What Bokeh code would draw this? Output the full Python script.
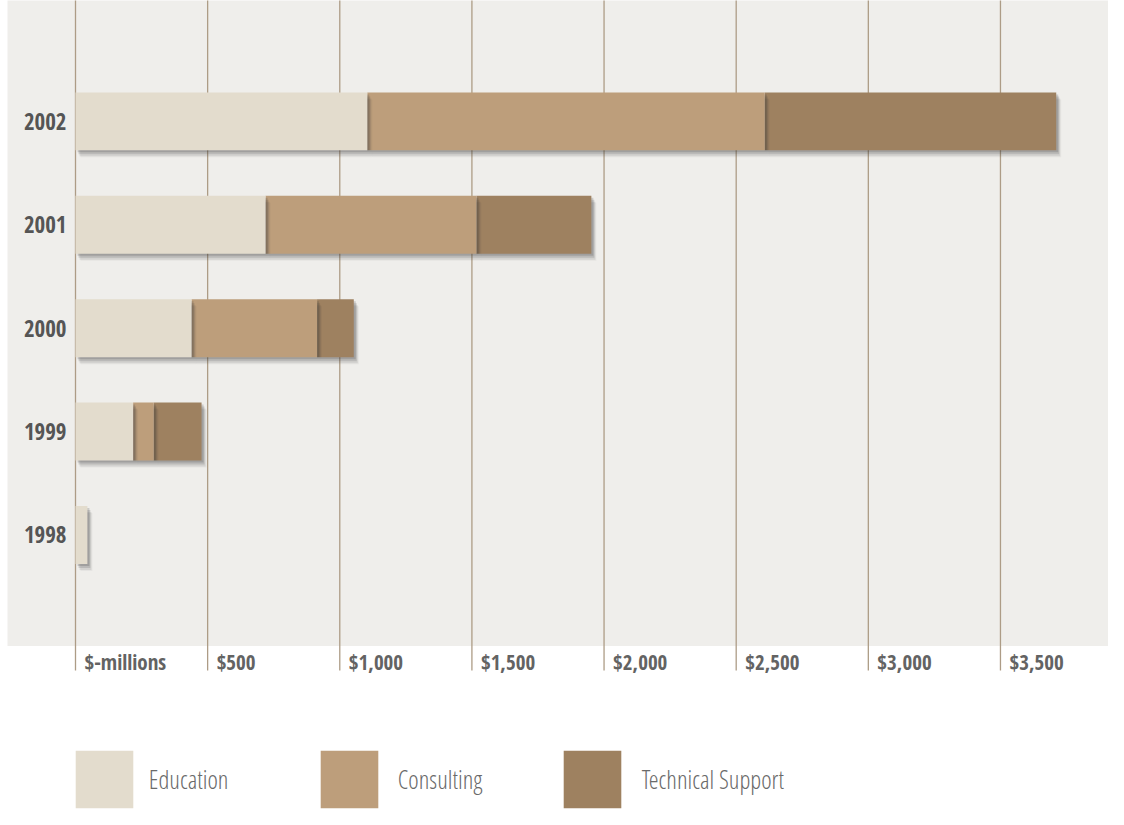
from bokeh.plotting import figure
from bokeh.models import Range1d, Legend, LegendItem
from bokeh.core.properties import value
from bokeh.embed import file_html
from bokeh.resources import INLINE

# ---------------- data ----------------
years = ["1998", "1999", "2000", "2001", "2002"]
education = [45, 218, 439, 719, 1104]
consulting = [0, 78, 475, 798, 1504]
technical = [0, 181, 139, 435, 1103]
tick_values = [0, 500, 1000, 1500, 2000, 2500, 3000, 3500]
tick_labels = ["$-millions", "$500", "$1,000", "$1,500", "$2,000", "$2,500", "$3,000", "$3,500"]
series_names = ["Education", "Consulting", "Technical Support"]
colors = ["#e3dccd", "#bd9e7b", "#9e8160"]

# ---------------- layout ----------------
W, H = 1108, 809
X0, X1 = -283.8, 3908.8
Y0, Y1 = -2.655, 5.169
PX_X = W / (X1 - X0)          # pixels per x unit
PX_Y = H / (Y1 - Y0)          # pixels per y unit
PANEL_BOTTOM = -1.073
GRID_BOTTOM = -1.31
BAR_H = 0.56
FONT_BOLD = "Open Sans Condensed"
FONT_LEG = "Open Sans Condensed Light"

p = figure(width=W, height=H, output_backend="svg", toolbar_location=None,
           x_range=Range1d(X0, X1), y_range=Range1d(Y0, Y1),
           x_axis_location=None, y_axis_location=None, min_border=0,
           background_fill_color="white", border_fill_color="white")
p.outline_line_color = None
p.xgrid.visible = False
p.ygrid.visible = False

# panel background
p.quad(left=[X0 + 7 / PX_X], right=[X1 + 100], bottom=[PANEL_BOTTOM], top=[Y1 + 1],
       fill_color="#efeeeb", line_color=None)

# vertical grid lines
p.segment(x0=tick_values, x1=tick_values, y0=[GRID_BOTTOM] * len(tick_values),
          y1=[Y1 + 1] * len(tick_values), line_color="#ad9c86", line_width=1.3)

ypos = list(range(len(years)))
lefts, rights = [], []
acc = [0] * len(years)
for vals in (education, consulting, technical):
    l = list(acc)
    r = [a + v for a, v in zip(acc, vals)]
    lefts.append(l)
    rights.append(r)
    acc = r

shadow_layers = [(2, 2, 0.20), (3, 4, 0.16), (4, 6, 0.10), (5, 7, 0.05)]
renderers = [None, None, None]
for k in (2, 1, 0):
    keep = [i for i in range(len(years)) if rights[k][i] > lefts[k][i]]
    for dx, dy, a in shadow_layers:
        p.hbar(y=[ypos[i] - dy / PX_Y for i in keep],
               left=[lefts[k][i] + dx / PX_X for i in keep],
               right=[rights[k][i] + dx / PX_X for i in keep],
               height=BAR_H, fill_color="#3a3a3a", fill_alpha=a, line_color=None)
    renderers[k] = p.hbar(y=ypos, left=lefts[k], right=rights[k], height=BAR_H,
                          fill_color=colors[k], line_color=None)

# year labels
p.text(x=[0] * len(years), y=ypos, text=years, x_offset=-9,
       text_align="right", text_baseline="middle", text_font=value(FONT_BOLD),
       text_font_style="bold", text_font_size="23px", text_color="#555555")

# x tick labels
p.text(x=tick_values, y=[PANEL_BOTTOM] * len(tick_values), text=tick_labels,
       x_offset=9, y_offset=16, text_align="left", text_baseline="middle",
       text_font=value(FONT_BOLD), text_font_style="bold", text_font_size="21px",
       text_color="#636363")

# legends
legend_x = [67.8, 312.8, 555.8]
standoffs = [9, 13, 14]
for k in range(3):
    lg = Legend(items=[LegendItem(label=series_names[k], renderers=[renderers[k]])],
                location=(legend_x[k], -5.8), orientation="horizontal",
                glyph_width=72, glyph_height=72, label_standoff=standoffs[k],
                padding=0, margin=0, spacing=0,
                background_fill_alpha=0, border_line_alpha=0,
                label_text_font=FONT_LEG, label_text_font_size="25px",
                label_text_color="#6a6a6a", label_height=72)
    p.add_layout(lg, "center")

open("out.html", "w").write(file_html(p, INLINE))
